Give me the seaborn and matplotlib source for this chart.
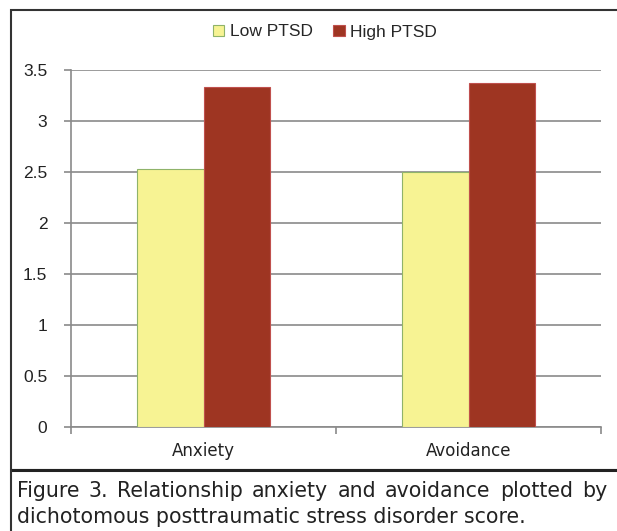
import matplotlib
matplotlib.use("Agg")
import matplotlib.pyplot as plt
import seaborn as sns
import pandas as pd
from matplotlib.patches import Rectangle
from matplotlib.lines import Line2D

categories = ["Anxiety", "Avoidance"]
groups = ["Low PTSD", "High PTSD"]
low_vals = [2.53, 2.50]
high_vals = [3.33, 3.37]
yticks = [0, 0.5, 1, 1.5, 2, 2.5, 3, 3.5]
ytick_labels = ["0", "0.5", "1", "1.5", "2", "2.5", "3", "3.5"]
caption_lines = ["Figure 3. Relationship anxiety and avoidance plotted by",
                 "dichotomous posttraumatic stress disorder score."]

df = pd.DataFrame({
    "measure": categories * 2,
    "group": [groups[0]] * len(categories) + [groups[1]] * len(categories),
    "score": low_vals + high_vals,
})

sns.set_theme(style="white")
plt.rcParams["font.family"] = ["Liberation Sans", "DejaVu Sans"]

W, H = 617, 531
fig = plt.figure(figsize=(W / 100, H / 100), dpi=100)
ax = fig.add_axes([71 / W, 1 - 427 / H, (601 - 71) / W, (427 - 70) / H])

colors = {"Low PTSD": "#F7F393", "High PTSD": "#9E3522"}
edges = {"Low PTSD": "#8FB36A", "High PTSD": "#C0504D"}
sns.barplot(data=df, x="measure", y="score", hue="group", hue_order=groups,
            palette=colors, saturation=1, width=0.5, ax=ax, legend=False, zorder=3)
for patch, grp in zip(ax.patches, [g for g in groups for _ in categories]):
    patch.set_edgecolor(edges[grp])
    patch.set_linewidth(0.8)

ax.set_xlim(-0.5, 1.5)
ax.set_ylim(0, 3.5)
ax.set_yticks(yticks)
ax.set_yticklabels(ytick_labels, fontsize=12.5, color="#222222")
ax.yaxis.grid(True, color="#8a8a8a", linewidth=1.2, zorder=0)
ax.set_axisbelow(True)
ax.set_xlabel("")
ax.set_ylabel("")
ax.tick_params(axis="y", which="major", left=True, length=5, color="#8a8a8a", width=1.2, pad=12)
ax.set_xticks([0, 1])
ax.set_xticklabels(categories, fontsize=12, family="DejaVu Sans", color="#222222")
ax.tick_params(axis="x", which="major", length=0, pad=11)
ax.set_xticks([-0.5, 0.5, 1.5], minor=True)
ax.tick_params(axis="x", which="minor", bottom=True, length=5, color="#8a8a8a", width=1.2)
for s in ["top", "right"]:
    ax.spines[s].set_visible(False)
for s in ["left", "bottom"]:
    ax.spines[s].set_color("#8a8a8a")
    ax.spines[s].set_linewidth(1.2)

handles = [Rectangle((0, 0), 1, 1, facecolor=colors[g], edgecolor=edges[g], linewidth=0.8) for g in groups]
fig.legend(handles, groups, loc="center", bbox_to_anchor=(325 / W, 1 - 32 / H),
           ncol=2, frameon=False, handlelength=0.65, handleheight=0.65,
           handletextpad=0.3, columnspacing=1.2,
           prop={"family": ["Liberation Sans"], "size": 12.5})

# outer frame and caption box
fig.add_artist(Rectangle((11 / W, 1 - 470 / H), (W + 5 - 11) / W, (470 - 10) / H,
                         transform=fig.transFigure, fill=False, edgecolor="#333333",
                         linewidth=1.5, clip_on=False))
fig.add_artist(Line2D([11 / W, 1], [1 - 470 / H, 1 - 470 / H], transform=fig.transFigure,
                      color="#222222", linewidth=2.2))
fig.add_artist(Line2D([11 / W, 11 / W], [0, 1 - 470 / H], transform=fig.transFigure,
                      color="#333333", linewidth=1.5))

cap_kw = dict(fontsize=14.8, va="baseline", ha="left", color="#222222", family="DejaVu Sans")
# justified first line
renderer = fig.canvas.get_renderer()
words = caption_lines[0].split(" ")
x0, x1 = 17, 607
texts = [fig.text(0, 1 - 497 / H, w, **cap_kw) for w in words]
widths = [t.get_window_extent(renderer).width for t in texts]
gap = (x1 - x0 - sum(widths)) / (len(words) - 1)
x = x0
for t, wd in zip(texts, widths):
    t.set_x(x / W)
    x += wd + gap
fig.text(17 / W, 1 - 523 / H, caption_lines[1], **cap_kw)

fig.savefig("out.png", dpi=100)
